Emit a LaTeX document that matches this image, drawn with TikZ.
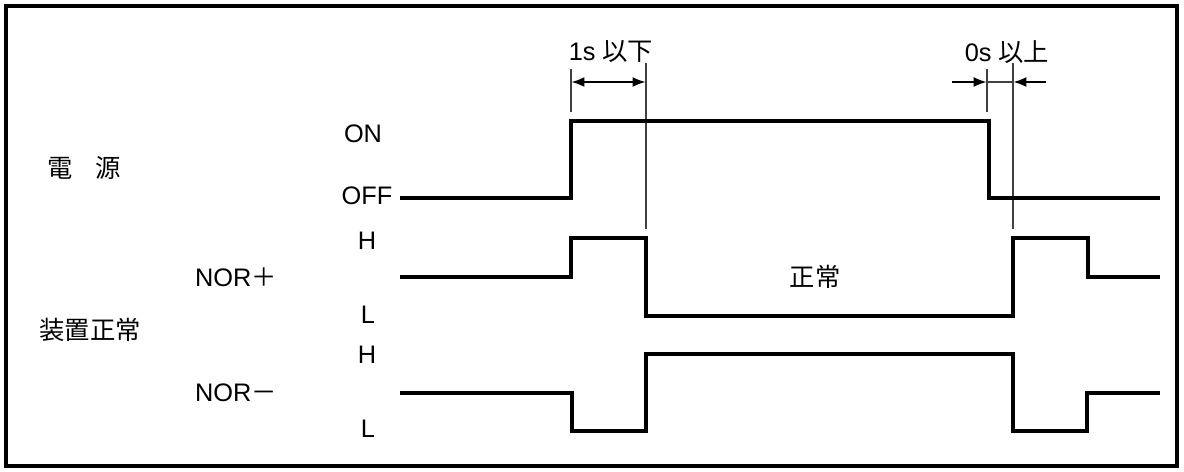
\documentclass[tikz,border=0pt]{standalone}
\usepackage{fontspec}
\setmainfont{Liberation Sans}
\newfontfamily\jp{Noto Sans CJK JP}
\usetikzlibrary{arrows.meta}

\tikzset{
  sig/.style={line width=2.6pt, line join=miter},
  guide/.style={line width=0.8pt, draw=black!75},
  lbl/.style={inner sep=0pt, font=\fontsize{19}{21}\selectfont},
  dimboth/.style={line width=1.9pt, {Latex[length=10pt,width=7.5pt]}-{Latex[length=10pt,width=7.5pt]}},
  dimin/.style={line width=1.9pt, -{Latex[length=10pt,width=7.5pt]}}
}

\begin{document}
\begin{tikzpicture}[x=0.75pt,y=0.75pt,yscale=-1,xscale=1]
\useasboundingbox (0,0) rectangle (1184,471);

%Frame
\draw [line width=3pt] (6,6) rectangle (1177,466);

%Guide lines
\coordinate (g1t) at (571,69);
\coordinate (g2t) at (646,63);
\coordinate (g3t) at (987,69);
\coordinate (g4t) at (1013,63);
\draw [guide] (g1t) -- (571,112);
\draw [guide] (g2t) -- (646,229);
\draw [guide] (g3t) -- (987,112);
\draw [guide] (g4t) -- (1013,229);

%Power
\draw [sig] (400,198) -- (571,198) -- (571,121) -- (989,121) -- (989,198) -- (1160,198);
%NOR+
\draw [sig] (400,277) -- (571,277) -- (571,238) -- (646,238) -- (646,316) -- (1013,316) -- (1013,238) -- (1088,238) -- (1088,277) -- (1160,277);
%NOR-
\draw [sig] (400,393) -- (572,393) -- (572,431) -- (646,431) -- (646,354) -- (1013,354) -- (1013,431) -- (1087,431) -- (1087,393) -- (1160,393);

%Dimension arrows
\coordinate (a1) at (571,82);
\coordinate (a2) at (646,82);
\coordinate (b1) at (987,82);
\coordinate (b2) at (1013,82);
\coordinate (b0) at (952,82);
\coordinate (b3) at (1046,82);
\draw [dimboth] (a1) -- (a2);
\draw [dimin] (b0) -- (b1);
\draw [dimin] (b3) -- (b2);
\draw [guide] (b1) -- (b2);

% Text Node
\node [lbl] (tmax) at (611,52) {1s {\jp 以下}};
\node [lbl] (tmin) at (1007,52) {0s {\jp 以上}};
\node [lbl] (pwr) at (84,168) {\jp 電\hspace{0.9em}源};
\node [lbl] (dev) at (90,330) {\jp 装置正常};
\node [lbl] (norp) at (236,277) {NOR{\jp ＋}};
\node [lbl] (norm) at (236,393) {NOR{\jp －}};
\node [lbl] (on) at (363,134) {ON};
\node [lbl] (off) at (367,196) {OFF};
\node [lbl] (hp) at (367,241) {H};
\node [lbl] (lp) at (368,315) {L};
\node [lbl] (hm) at (367,355) {H};
\node [lbl] (lm) at (368,429) {L};
\node [lbl] (ok) at (815,277) {\jp 正常};
\end{tikzpicture}
\end{document}
